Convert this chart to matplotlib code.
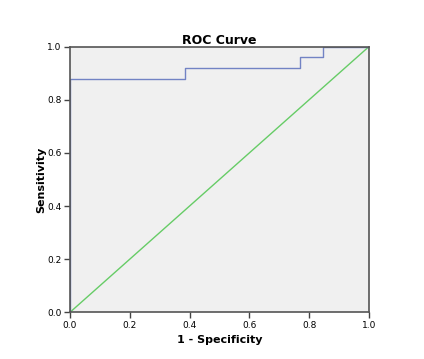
import matplotlib
matplotlib.use("Agg")
import matplotlib.pyplot as plt

fpr = [0.0, 0.0, 5/13, 5/13, 10/13, 10/13, 11/13, 11/13, 1.0]
tpr = [0.0, 0.88, 0.88, 0.92, 0.92, 0.96, 0.96, 1.0, 1.0]
ref_x = [0.0, 1.0]
ref_y = [0.0, 1.0]
ticks = [0.0, 0.2, 0.4, 0.6, 0.8, 1.0]

fig = plt.figure(figsize=(4.24, 3.59), dpi=100)
ax = fig.add_axes([0.165, 0.130, 0.705, 0.740])
ax.set_facecolor("#f0f0f0")
ax.plot(fpr, tpr, color="#7283c4", lw=1.0, zorder=2)
ax.plot(ref_x, ref_y, color="#66cc66", lw=1.0, zorder=1.5)
ax.set_xlim(0, 1)
ax.set_ylim(0, 1)
ax.set_xticks(ticks)
ax.set_yticks(ticks)
ax.set_xticklabels([f"{t:.1f}" for t in ticks])
ax.set_yticklabels([f"{t:.1f}" for t in ticks])
ax.tick_params(direction="out", length=4, width=1, labelsize=6.5, color="#444444", pad=2)
for s in ax.spines.values():
    s.set_color("#555555")
    s.set_linewidth(1.2)
    s.set_zorder(5)
ax.set_title("ROC Curve", fontsize=9, fontweight="bold", pad=2)
ax.set_xlabel("1 - Specificity", fontsize=8, fontweight="bold", labelpad=4)
ax.set_ylabel("Sensitivity", fontsize=8, fontweight="bold", labelpad=1)
fig.savefig("out.png", dpi=100)
